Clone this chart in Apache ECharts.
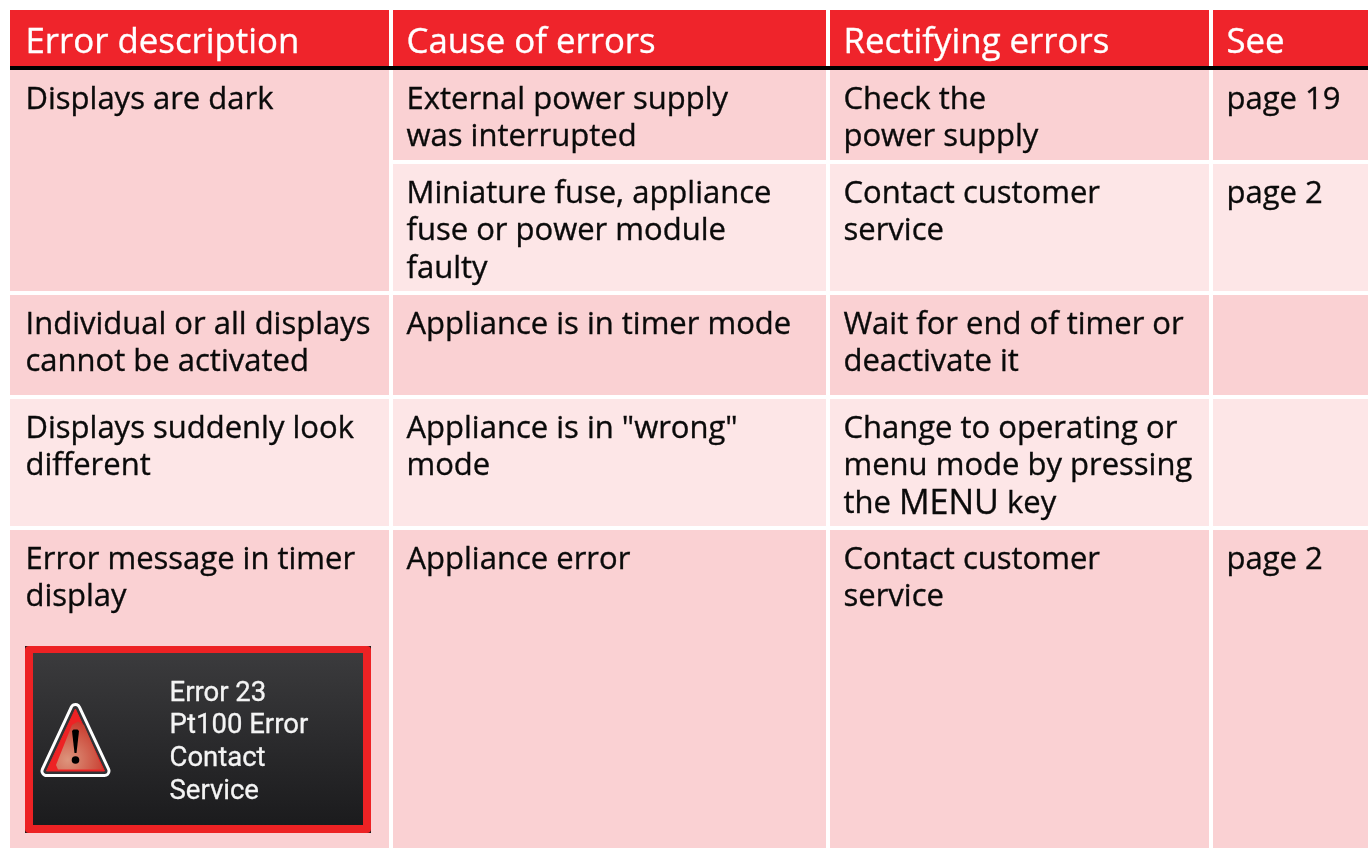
<!DOCTYPE html>
<html><head><meta charset="utf-8">
<style>html,body{margin:0;padding:0;background:#fff}#c{width:1368px;height:848px}</style>
<script src="https://cdn.jsdelivr.net/npm/echarts@6/dist/echarts.min.js"></script>
</head><body><div id="c"></div>
<script>
// ---- table content ----
const headers = ['Error description', 'Cause of errors', 'Rectifying errors', 'See'];
const descriptions = ['Displays are dark', 'Individual or all displays\ncannot be activated', 'Displays suddenly look\ndifferent', 'Error message in timer\ndisplay'];
const causes = ['External power supply\nwas interrupted', 'Miniature fuse, appliance\nfuse or power module\nfaulty', 'Appliance is in timer mode', 'Appliance is in "wrong"\nmode', 'Appliance error'];
const remedies = ['Check the\npower supply', 'Contact customer\nservice', 'Wait for end of timer or\ndeactivate it', 'Change to operating or\nmenu mode by pressing\nthe {key|MENU} key', 'Contact customer\nservice'];
const seePages = ['page 19', 'page 2', '', '', 'page 2'];
const displayLines = ['Error 23', 'Pt100 Error', 'Contact', 'Service'];

// ---- layout ----
const colLeft = [10, 393, 830, 1213], colRight = [389, 826, 1209, 1368];
const rowTop = [10, 70, 164, 295, 399, 530], rowBottom = [66, 160, 291, 395, 526, 848];
const textX = [25.5, 406.5, 843.5, 1226.5];
const RED = '#ef242b', DARK = '#fad1d3', LIGHT = '#fde6e7';
const FONT = 'Open Sans', SIZE = 31, HEAD = 34.8, LH = 37.5;

const cells = [];
headers.forEach((t, c) => cells.push({c, r0: 0, r1: 0, t, fill: RED, color: '#fff', size: HEAD, head: true}));
const descSpan = [[1, 2], [3, 3], [4, 4], [5, 5]];
const tone = r => (r === 2 || r === 4) ? LIGHT : DARK;
descriptions.forEach((t, i) => cells.push({c: 0, r0: descSpan[i][0], r1: descSpan[i][1], t, fill: i === 2 ? LIGHT : DARK}));
[causes, remedies, seePages].forEach((col, k) => col.forEach((t, i) => cells.push({c: k + 1, r0: i + 1, r1: i + 1, t, fill: tone(i + 1)})));

function renderCell(params, api) {
  const d = cells[api.value(0)];
  const p0 = api.coord([colLeft[d.c], rowTop[d.r0]]);
  const p1 = api.coord([colRight[d.c], rowBottom[d.r1]]);
  const tp = api.coord([textX[d.c], d.head ? 43 : rowTop[d.r0] + 11.2]);
  const ink = d.color || '#0a0a0a';
  return {type: 'group', children: [
    {type: 'rect', shape: {x: p0[0], y: p0[1], width: p1[0] - p0[0], height: p1[1] - p0[1]}, style: {fill: d.fill}},
    {type: 'text', x: tp[0], y: tp[1], style: {
      text: d.t, fill: ink, stroke: ink, lineWidth: 0.35, font: (d.size || SIZE) + 'px "' + FONT + '"',
      lineHeight: LH, verticalAlign: d.head ? 'middle' : 'top', align: 'left',
      rich: {key: {font: '500 34px "' + FONT + '"', lineHeight: LH, fill: '#0a0a0a'}}
    }}
  ]};
}

function renderPanel(params, api) {
  const c = (x, y) => api.coord([x, y]);
  const o = c(25, 646), o2 = c(371, 833), i = c(33, 653), i2 = c(363, 825);
  const tri = [c(75.4, 709), c(46.5, 771), c(104.5, 771)];
  const gloss = [c(72, 725), c(56, 765), c(58, 769.5), c(103, 769.5), c(84, 725), c(78, 721.5)];
  const excl = [c(72, 731), c(73.5, 729.5), c(77.5, 729.5), c(79, 731), c(76.5, 753), c(74.5, 753)];
  const dot = c(75.5, 760);
  const children = [
    {type: 'rect', shape: {x: o[0], y: o[1], width: o2[0] - o[0], height: o2[1] - o[1]}, style: {fill: '#201a1a'}},
    {type: 'rect', shape: {x: o[0], y: o[1], width: o2[0] - o[0], height: o2[1] - o[1], r: 4}, style: {fill: '#ed2224'}},
    {type: 'rect', shape: {x: i[0], y: i[1], width: i2[0] - i[0], height: i2[1] - i[1]}, style: {
      fill: {type: 'linear', x: 0, y: 0, x2: 0, y2: 1, colorStops: [{offset: 0, color: '#3b3b3d'}, {offset: 1, color: '#1b1b1d'}]}}},
    {type: 'polygon', shape: {points: tri}, style: {fill: '#fff', stroke: '#fff', lineWidth: 12, lineJoin: 'round'}},
    {type: 'polygon', shape: {points: tri}, style: {fill: '#333336', stroke: '#333336', lineWidth: 6, lineJoin: 'round'}},
    {type: 'polygon', shape: {points: tri}, style: {fill: '#ed2224', stroke: '#ed2224', lineWidth: 1, lineJoin: 'round'}},
    {type: 'polygon', shape: {points: gloss}, style: {
      fill: {type: 'radial', x: 0.25, y: 0.8, r: 0.85, colorStops: [{offset: 0, color: '#dd957d'}, {offset: 1, color: '#c8392c'}]}}},
    {type: 'polygon', shape: {points: excl}, style: {fill: '#000'}},
    {type: 'circle', shape: {cx: dot[0], cy: dot[1], r: 3.8}, style: {fill: '#000'}}
  ];
  const lineY = [694, 726, 759, 792];
  displayLines.forEach((t, k) => {
    const p = c(169.5, lineY[k]);
    children.push({type: 'text', x: p[0], y: p[1], style: {text: t, fill: '#f4f4f4', font: '27.5px Roboto', stroke: '#f4f4f4', lineWidth: 0.3, verticalAlign: 'middle', align: 'left'}});
  });
  return {type: 'group', children};
}

const chart = echarts.init(document.getElementById('c'), null, {renderer: 'canvas'});
chart.setOption({
  animation: false,
  backgroundColor: '#fff',
  grid: {left: 0, right: 0, top: 0, bottom: 0},
  xAxis: {type: 'value', min: 0, max: 1368, show: false},
  yAxis: {type: 'value', min: 0, max: 848, inverse: true, show: false},
  series: [
    {type: 'custom', coordinateSystem: 'cartesian2d', silent: true, clip: false, renderItem: renderCell,
     data: cells.map((_, i) => [i]), encode: {x: [], y: []}},
    {type: 'custom', coordinateSystem: 'cartesian2d', silent: true, clip: false, renderItem: renderPanel,
     data: [[0]], encode: {x: [], y: []}},
    {type: 'line', silent: true, symbol: 'none', lineStyle: {color: '#000', width: 4}, data: [[10, 68], [1368, 68]]}
  ]
});
</script></body></html>
